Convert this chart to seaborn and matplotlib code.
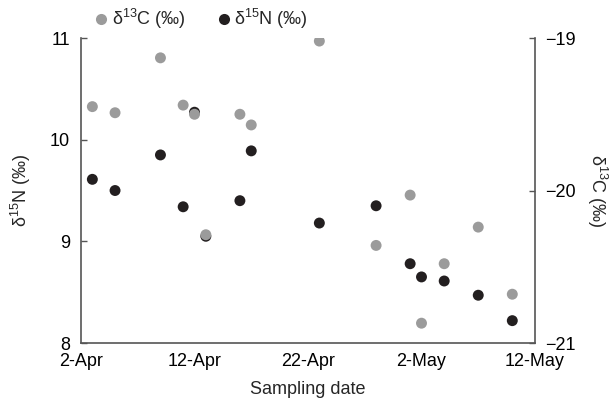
import pandas as pd
import numpy as np
import matplotlib
matplotlib.use('Agg')
import matplotlib.pyplot as plt
import matplotlib.dates as mdates
from matplotlib.lines import Line2D
import seaborn as sns

# Sampling dates and isotope values
dates = ['2013-04-03', '2013-04-05', '2013-04-09', '2013-04-11', '2013-04-12',
         '2013-04-13', '2013-04-16', '2013-04-17', '2013-04-23', '2013-04-28',
         '2013-05-01', '2013-05-02', '2013-05-04', '2013-05-07', '2013-05-10']
d15N = [9.61, 9.50, 9.85, 9.34, 10.27, 9.05, 9.40, 9.89, 9.18, 9.35,
        8.78, 8.65, 8.61, 8.47, 8.22]
d13C = [-19.45, -19.49, -19.13, -19.44, -19.50, -20.29, -19.50, -19.57, -19.02, -20.36,
        -20.03, -20.87, -20.48, -20.24, -20.68]
x_ticks = ['2013-04-02', '2013-04-12', '2013-04-22', '2013-05-02', '2013-05-12']

df = pd.DataFrame({'date': pd.to_datetime(dates), 'd15N': d15N, 'd13C': d13C})

sns.set_style('white')
plt.rcParams['font.family'] = ['Liberation Sans', 'DejaVu Sans']
plt.rcParams['mathtext.fontset'] = 'custom'
plt.rcParams['mathtext.rm'] = 'Liberation Sans'
plt.rcParams['mathtext.it'] = 'Liberation Sans:italic'
plt.rcParams['mathtext.bf'] = 'Liberation Sans:bold'

grey = '#9b9b9b'
black = '#231f20'
spine_col = '#555555'
fs = 13

fig = plt.figure(figsize=(6.16, 4.01), dpi=100)
ax = fig.add_axes([0.1315, 0.1446, 0.737, 0.7606])
ax2 = ax.twinx()

sns.scatterplot(data=df, x='date', y='d15N', ax=ax, color=black, s=62,
                edgecolor='none', legend=False)
sns.scatterplot(data=df, x='date', y='d13C', ax=ax2, color=grey, s=62,
                edgecolor='none', legend=False)

ax.set_xlim(pd.Timestamp('2013-04-02'), pd.Timestamp('2013-05-12'))
ax.set_ylim(8, 11)
ax2.set_ylim(-21, -19)
ax.set_yticks([8, 9, 10, 11])
ax2.set_yticks([-21, -20, -19])
ax2.set_yticklabels(['\u221221', '\u221220', '\u221219'])

tick_dates = pd.to_datetime(x_ticks)
ax.set_xticks(tick_dates)
ax.set_xticklabels([f'{d.day}-{d.strftime("%b")}' for d in tick_dates])

for a in (ax, ax2):
    a.spines['top'].set_visible(False)
    for s in ('left', 'right', 'bottom'):
        a.spines[s].set_color(spine_col)
        a.spines[s].set_linewidth(1.2)
    a.tick_params(direction='in', length=4, width=1, color=spine_col,
                  labelsize=fs, labelcolor='black')
ax.tick_params(axis='y', pad=8)
ax.tick_params(axis='x', pad=7)
ax2.tick_params(axis='y', pad=7)
ax.spines['right'].set_visible(False)
ax2.spines['left'].set_visible(False)
ax2.spines['bottom'].set_visible(False)

ax.set_xlabel('Sampling date', fontsize=fs, labelpad=8)
ax.set_ylabel('\u03b4$^{15}$N (\u2030)', fontsize=fs, labelpad=12)
ax2.set_ylabel('\u03b4$^{13}$C (\u2030)', fontsize=fs, rotation=270, labelpad=24)

handles = [
    Line2D([], [], marker='o', linestyle='none', color=grey, markersize=8,
           markeredgewidth=0, label='\u03b4$^{13}$C (\u2030)'),
    Line2D([], [], marker='o', linestyle='none', color=black, markersize=8,
           markeredgewidth=0, label='\u03b4$^{15}$N (\u2030)'),
]
fig.legend(handles=handles, loc='center left', bbox_to_anchor=(0.138, 0.952),
           ncol=2, frameon=False, fontsize=fs, handletextpad=0.1,
           columnspacing=1.6, handlelength=1.0, borderaxespad=0)

plt.savefig('out.png', dpi=100)
